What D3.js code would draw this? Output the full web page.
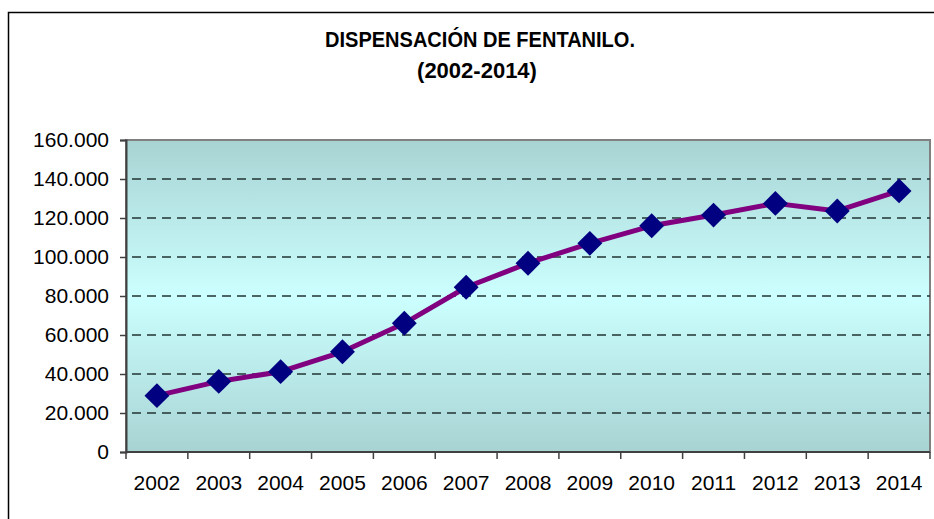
<!DOCTYPE html>
<html>
<head>
<meta charset="utf-8">
<script src="https://cdn.jsdelivr.net/npm/d3@7"></script>
<style>
  body { margin: 0; background: #ffffff; }
  svg text { font-family: "Liberation Sans", Arial, sans-serif; fill: #000000; }
</style>
</head>
<body>
<svg id="chart" width="934" height="519"></svg>
<script>
'use strict';

// chart data
const years = ["2002", "2003", "2004", "2005", "2006", "2007", "2008",
               "2009", "2010", "2011", "2012", "2013", "2014"];
const dispensed = [28900, 36200, 41200, 51400, 66000, 84500, 96800,
                   107000, 116000, 121500, 127500, 123600, 133900];
const yTicks = [0, 20000, 40000, 60000, 80000, 100000, 120000, 140000, 160000];
const titleLines = ["DISPENSACIÓN DE FENTANILO.", "(2002-2014)"];

const svg = d3.select("#chart");

// plot area
const plot = { left: 126, top: 140, right: 930, bottom: 452 };

const x = d3.scaleBand()
    .domain(years)
    .range([plot.left, plot.right]);

const y = d3.scaleLinear()
    .domain([0, 160000])
    .range([plot.bottom, plot.top]);

const esFormat = d3.formatLocale({ decimal: ",", thousands: ".", grouping: [3], currency: ["", "€"] }).format(",d");

// outer chart border
svg.append("rect")
    .attr("x", 8.5)
    .attr("y", 12.5)
    .attr("width", 940)
    .attr("height", 520)
    .attr("fill", "none")
    .attr("stroke", "#000000")
    .attr("stroke-width", 1.5);

// title
svg.append("text")
    .attr("x", 480)
    .attr("y", 47)
    .attr("text-anchor", "middle")
    .attr("font-size", 22)
    .attr("font-weight", "bold")
    .attr("textLength", 310)
    .attr("lengthAdjust", "spacingAndGlyphs")
    .text(titleLines[0]);

svg.append("text")
    .attr("x", 477)
    .attr("y", 78)
    .attr("text-anchor", "middle")
    .attr("font-size", 22)
    .attr("font-weight", "bold")
    .text(titleLines[1]);

// background gradient (light cyan in the middle, darker at the edges)
const grad = svg.append("defs").append("linearGradient")
    .attr("id", "plotBg")
    .attr("x1", 0).attr("y1", 0)
    .attr("x2", 0).attr("y2", 1);
grad.append("stop").attr("offset", "0%").attr("stop-color", "#a8d3d3");
grad.append("stop").attr("offset", "50%").attr("stop-color", "#ccffff");
grad.append("stop").attr("offset", "100%").attr("stop-color", "#a8d3d3");

svg.append("rect")
    .attr("x", plot.left)
    .attr("y", plot.top)
    .attr("width", plot.right - plot.left)
    .attr("height", plot.bottom - plot.top)
    .attr("fill", "url(#plotBg)")
    .attr("stroke", "#808080")
    .attr("stroke-width", 2);

// dashed gridlines
svg.append("g")
    .selectAll("line")
    .data(yTicks.filter((d) => d > 0 && d < 160000))
    .enter()
    .append("line")
    .attr("x1", plot.left + 6)
    .attr("x2", plot.right)
    .attr("y1", (d) => y(d))
    .attr("y2", (d) => y(d))
    .attr("stroke", "#223333")
    .attr("stroke-width", 1.4)
    .attr("stroke-dasharray", "9,6");

// y axis
const yAxis = svg.append("g")
    .attr("transform", `translate(${plot.left},0)`)
    .call(d3.axisLeft(y)
        .tickValues(yTicks)
        .tickFormat((d) => esFormat(d))
        .tickSize(6)
        .tickPadding(11));
yAxis.select(".domain").attr("stroke", "#404040").attr("stroke-width", 2);
yAxis.selectAll(".tick line").attr("stroke", "#404040").attr("stroke-width", 1.5);
yAxis.selectAll("text")
    .attr("font-size", 21)
    .attr("font-family", "\"Liberation Sans\", Arial, sans-serif")
    .attr("fill", "#000000");

// x axis (labels centered, ticks between categories)
const xAxis = svg.append("g")
    .attr("transform", `translate(0,${plot.bottom})`)
    .call(d3.axisBottom(x).tickSize(0).tickPadding(23));
xAxis.select(".domain").remove();
xAxis.selectAll("text")
    .attr("font-size", 21)
    .attr("font-family", "\"Liberation Sans\", Arial, sans-serif")
    .attr("fill", "#000000");

const boundaries = years.map((d) => x(d)).concat([x.range()[1]]);
svg.append("g")
    .selectAll("line")
    .data(boundaries)
    .enter()
    .append("line")
    .attr("x1", (d) => d)
    .attr("x2", (d) => d)
    .attr("y1", plot.bottom)
    .attr("y2", plot.bottom + 7)
    .attr("stroke", "#404040")
    .attr("stroke-width", 1.5);

svg.append("line")
    .attr("x1", plot.left)
    .attr("x2", plot.right)
    .attr("y1", plot.bottom)
    .attr("y2", plot.bottom)
    .attr("stroke", "#404040")
    .attr("stroke-width", 2);

// series line
const cx = (d, i) => x(years[i]) + x.bandwidth() / 2;

svg.append("path")
    .datum(dispensed)
    .attr("d", d3.line()
        .x(cx)
        .y((d) => y(d)))
    .attr("fill", "none")
    .attr("stroke", "#800080")
    .attr("stroke-width", 5)
    .attr("stroke-linejoin", "round");

// diamond markers
svg.append("g")
    .selectAll("path")
    .data(dispensed)
    .enter()
    .append("path")
    .attr("d", d3.symbol().type(d3.symbolSquare).size(310))
    .attr("transform", (d, i) => `translate(${cx(d, i)},${y(d)}) rotate(45)`)
    .attr("fill", "#000080");
</script>
</body>
</html>
